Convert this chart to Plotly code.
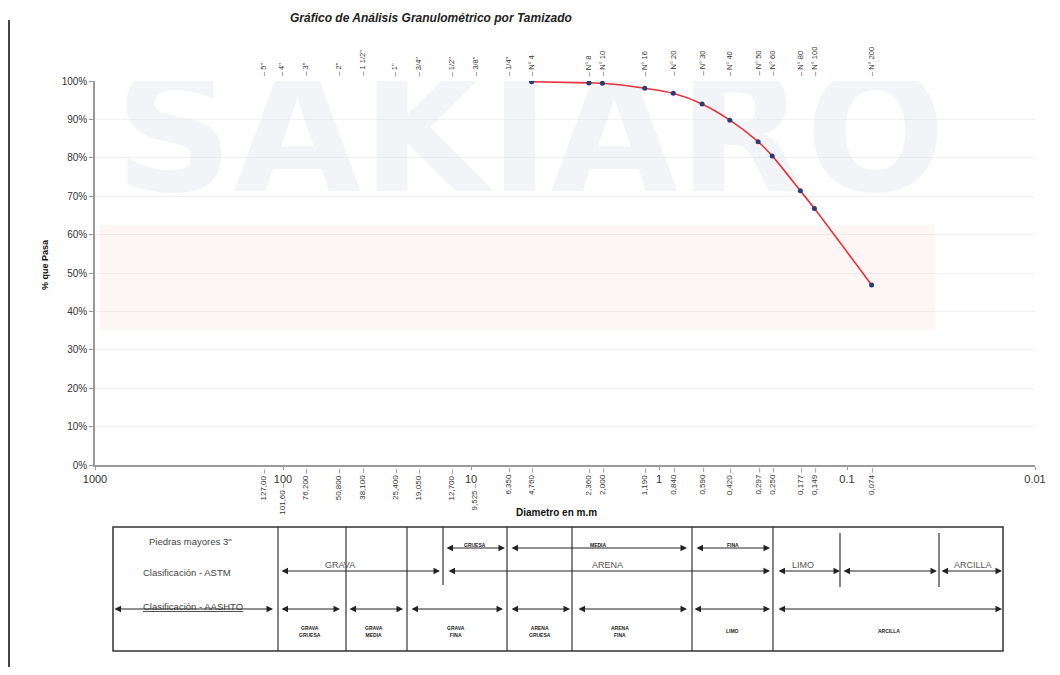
import numpy as np
import plotly.graph_objects as go

# ---------------- data ----------------
sieve_names = ['5"', '4"', '3"', '2"', '1 1/2"', '1"', '3/4"', '1/2"', '3/8"', '1/4"',
               'N° 4', 'N° 8', 'N° 10', 'N° 16', 'N° 20', 'N° 30', 'N° 40', 'N° 50',
               'N° 60', 'N° 80', 'N° 100', 'N° 200']
sieve_mm = [127.0, 101.6, 76.2, 50.8, 38.1, 25.4, 19.05, 12.7, 9.525, 6.35,
            4.76, 2.36, 2.0, 1.19, 0.84, 0.59, 0.42, 0.297, 0.25, 0.177, 0.149, 0.074]
sieve_labels = ['127,00', '101,60', '76,200', '50,800', '38,100', '25,400', '19,050',
                '12,700', '9,525', '6,350', '4,760', '2,360', '2,000', '1,190', '0,840',
                '0,590', '0,420', '0,297', '0,250', '0,177', '0,149', '0,074']
curve_mm = [4.76, 2.36, 2.0, 1.19, 0.84, 0.59, 0.42, 0.297, 0.25, 0.177, 0.149, 0.074]
curve_pass = [0.998, 0.995, 0.994, 0.981, 0.968, 0.940, 0.898, 0.842, 0.805, 0.714, 0.668, 0.469]
decade_vals = [1000, 100, 10, 1, 0.1, 0.01]
decade_text = ['1000', '100', '10', '1', '0.1', '0.01']
y_ticks = [0, 0.1, 0.2, 0.3, 0.4, 0.5, 0.6, 0.7, 0.8, 0.9, 1.0]

title = "Gráfico de Análisis Granulométrico por Tamizado"
x_title = "Diametro en m.m"
y_title = "% que Pasa"
watermark = "SAKIARO"

# classification table content
row_labels = ['Piedras mayores 3"', 'Clasificación - ASTM', '<u>Clasificación - AASHTO</u>']
astm_sub = ['GRUESA', 'MEDIA', 'FINA']
astm_main = ['GRAVA', 'ARENA', 'LIMO', '', 'ARCILLA']
aashto = ['GRAVA<br>GRUESA', 'GRAVA<br>MEDIA', 'GRAVA<br>FINA', 'ARENA<br>GRUESA',
          'ARENA<br>FINA', 'LIMO', 'ARCILLA']

# ---------------- layout geometry (pixels) ----------------
OX, OY = 8, 8              # page body margin
FW, FH = 1044, 659
L, T = 87, 73
W, H = 940, 384
R, B = FW - L - W, FH - T - H
FONT = "Liberation Sans, Arial, sans-serif"


def px(x):
    return (x - OX - L) / W


def py(y):
    return (T + H - (y - OY)) / H


def xdata(x):
    # convert a reference pixel column to the log-axis data value
    return 10 ** (3 - 5 * (x - OX - L) / W)


fig = go.Figure()

# faint scan watermark (drawn first, under the curve)
fig.add_trace(go.Scatter(
    x=[xdata(530)], y=[(T + H - (150 - OY)) / H], mode='text', text=[f"<b>{watermark}</b>"],
    textfont=dict(size=165, color='rgba(222,226,236,0.38)', family="DejaVu Sans, Arial"),
    showlegend=False, hoverinfo='skip'))

fig.add_trace(go.Scatter(
    x=curve_mm, y=curve_pass, mode='lines+markers',
    line=dict(color='#e8323c', width=1.6, shape='spline', smoothing=0.8),
    marker=dict(color='#283c7a', size=5, symbol='circle'),
    showlegend=False, hoverinfo='x+y'))

annotations = []
shapes = []


def label(x, y, text, size, color='#444', bold=False, italic=False, angle=0):
    t = text
    if italic:
        t = f"<i>{t}</i>"
    if bold:
        t = f"<b>{t}</b>"
    annotations.append(dict(x=px(x), y=py(y), xref='paper', yref='paper', showarrow=False,
                            xanchor='center', yanchor='middle', textangle=angle,
                            text=t, font=dict(size=size, color=color, family=FONT)))


# title and axis titles
label(431, 18, title, 12, '#222', bold=True, italic=True)
label(556, 512, x_title, 10, '#111', bold=True)
label(45, 265, y_title, 9, '#111', bold=True, angle=-90)

# sieve size labels under the axis and sieve names above the plot
for name, mm, lab in zip(sieve_names, sieve_mm, sieve_labels):
    lx = np.log10(mm)
    near_decade = abs(lx - round(lx)) < 0.05
    annotations.append(dict(x=lx, y=0, xref='x', yref='paper', showarrow=False,
                            textangle=-90, text=f"{lab} –", xanchor='center', yanchor='top',
                            yshift=-16 if near_decade else -1,
                            font=dict(size=8, color='#333', family=FONT)))
    annotations.append(dict(x=lx, y=1, xref='x', yref='paper', showarrow=False,
                            textangle=-90, text=f"– {name}", xanchor='center', yanchor='bottom',
                            yshift=3, font=dict(size=7.5, color='#333', family=FONT)))

# pinkish watermark band
shapes.append(dict(type='rect', xref='paper', yref='paper', x0=px(100), x1=px(935),
                   y0=py(330), y1=py(225), line=dict(width=0),
                   fillcolor='rgba(252,225,220,0.3)', layer='below'))

# scan border line at left
shapes.append(dict(type='line', xref='paper', yref='paper', x0=px(9), x1=px(9),
                   y0=py(20), y1=py(675), line=dict(color='#444', width=2)))

# ---------------- classification table ----------------
TX0, TX1, TY0, TY1 = 113, 1003, 527, 651
LINE = dict(color='#333', width=1.2)
shapes.append(dict(type='rect', xref='paper', yref='paper', x0=px(TX0), x1=px(TX1),
                   y0=py(TY1), y1=py(TY0), line=dict(color='#333', width=1.5)))
for xv in [278, 346, 407, 507, 572, 692, 773]:
    shapes.append(dict(type='line', xref='paper', yref='paper', x0=px(xv), x1=px(xv),
                       y0=py(TY1), y1=py(TY0), line=LINE))
for xv, ya, yb in [(443, 527, 585), (840, 533, 587), (939, 533, 587)]:
    shapes.append(dict(type='line', xref='paper', yref='paper', x0=px(xv), x1=px(xv),
                       y0=py(yb), y1=py(ya), line=LINE))


def arrow(x1, x2, y):
    annotations.append(dict(x=px(x2), y=py(y), xref='paper', yref='paper',
                            ax=x1 - x2, ay=0, axref='pixel', ayref='pixel', text='',
                            showarrow=True, arrowhead=2, startarrowhead=2,
                            arrowside='end+start', arrowsize=1.3, startarrowsize=1.3,
                            arrowwidth=1, arrowcolor='#222', standoff=0, startstandoff=0))


# row labels
label(190, 541, row_labels[0], 9.5)
label(187, 572, row_labels[1], 9.5)
label(193, 606, row_labels[2], 9.5)

# row 1: sand subdivisions
for (a, b, c), t in zip([(445, 505, 475), (510, 687, 598), (695, 770, 733)], astm_sub):
    arrow(a, b, 548)
    label(c, 545, t, 5, '#222', bold=True)

# row 2: ASTM main
for (a, b, c), t in zip([(280, 440, 340), (447, 770, 607), (777, 840, 803),
                         (842, 937, 890), (940, 1002, 973)], astm_main):
    arrow(a, b, 571)
    if t:
        label(c, 565, t, 9, '#555')

# row 3: AASHTO arrows
for a, b in [(113, 273), (280, 340), (348, 403), (410, 503), (510, 570),
             (577, 687), (693, 770), (777, 1002)]:
    arrow(a, b, 609)

# row 4: AASHTO names
for c, t in zip([310, 374, 456, 540, 620, 732, 889], aashto):
    label(c, 631, t, 5, '#222', bold=True)

fig.update_layout(
    width=FW, height=FH,
    margin=dict(l=L, r=R, t=T, b=B, autoexpand=False),
    paper_bgcolor='white', plot_bgcolor='rgba(0,0,0,0)',
    font=dict(family=FONT, color='#333'),
    annotations=annotations, shapes=shapes,
    showlegend=False,
)
fig.update_xaxes(type='log', range=[3, -2], tickvals=decade_vals, ticktext=decade_text,
                 showline=True, linecolor='#9a9a9a', linewidth=1.5, ticks='outside',
                 ticklen=3, tickcolor='#9a9a9a', tickfont=dict(size=11, color='#333'),
                 showgrid=False, zeroline=False)
fig.update_yaxes(range=[0, 1], tickvals=y_ticks, tickformat='.0%', showline=True,
                 linecolor='#9a9a9a', linewidth=1.5, ticks='outside', ticklen=4,
                 tickcolor='#9a9a9a', tickfont=dict(size=10, color='#333'),
                 showgrid=True, gridcolor='rgba(200,200,200,0.25)', zeroline=False)

fig.write_html("out.html")
